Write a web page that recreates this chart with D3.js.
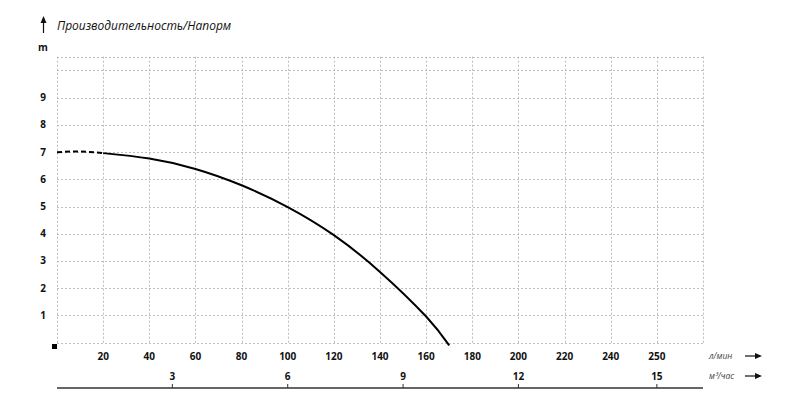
<!DOCTYPE html>
<html>
<head>
<meta charset="utf-8">
<script src="https://cdn.jsdelivr.net/npm/d3@7"></script>
<style>
  body { margin: 0; background: #fff; }
  text { font-family: "Open Sans", sans-serif; fill: #111; }
</style>
</head>
<body>
<svg></svg>
<script>
// dashed start of the curve (l/min, m)
var dashedFlow = [0, 10, 20];
var dashedHead = [6.99, 7.02, 6.96];
// solid part of the curve
var curveFlow = [20, 40, 60, 80, 100, 120, 140, 160, 170];
var curveHead = [6.96, 6.76, 6.38, 5.78, 4.98, 3.95, 2.6, 0.96, -0.1];

var headTicks = [1, 2, 3, 4, 5, 6, 7, 8, 9];
var gridHeads = [0, 1, 2, 3, 4, 5, 6, 7, 8, 9, 10, 10.5];
var flowTicks = [20, 40, 60, 80, 100, 120, 140, 160, 180, 200, 220, 240, 260];
var flowLabels = ['20', '40', '60', '80', '100', '120', '140', '160', '180', '200', '220', '240', '250'];
var cubicTicks = [50, 100, 150, 200, 260];
var cubicLabels = ['3', '6', '9', '12', '15'];

var width = 800;
var height = 411;

var svg = d3.select('svg')
  .attr('width', width)
  .attr('height', height);

var x = d3.scaleLinear().domain([0, 280]).range([57, 703]);
var y = d3.scaleLinear().domain([0, 10.5]).range([342.7, 56.7]);

// grid
var grid = svg.append('g')
  .attr('stroke', '#bdbdbd')
  .attr('stroke-width', 1)
  .attr('stroke-dasharray', '2,2');

grid.selectAll('.hgrid')
  .data(gridHeads)
  .enter()
  .append('line')
  .attr('x1', x(0))
  .attr('x2', x(280))
  .attr('y1', d => Math.round(y(d)) + 0.5)
  .attr('y2', d => Math.round(y(d)) + 0.5);

grid.selectAll('.vgrid')
  .data([0].concat(flowTicks, [280]))
  .enter()
  .append('line')
  .attr('y1', y(10.5))
  .attr('y2', y(0))
  .attr('x1', d => Math.round(x(d)) + 0.5)
  .attr('x2', d => Math.round(x(d)) + 0.5);

// y labels
svg.selectAll('.ylab')
  .data(headTicks)
  .enter()
  .append('text')
  .attr('x', 43)
  .attr('y', d => y(d) + 3.5)
  .attr('text-anchor', 'middle')
  .style('font-size', '10px')
  .style('font-weight', 'bold')
  .text(d => d);

svg.append('text')
  .attr('x', 43)
  .attr('y', 51)
  .attr('text-anchor', 'middle')
  .style('font-size', '10px')
  .style('font-weight', 'bold')
  .text('m');

// up arrow + title
svg.append('line')
  .attr('x1', 43.5).attr('x2', 43.5)
  .attr('y1', 33).attr('y2', 21)
  .attr('stroke', '#111').attr('stroke-width', 1.2);
svg.append('path')
  .attr('d', 'M43.5,16 L40.5,23 L46.5,23 Z')
  .attr('fill', '#111');

svg.append('text')
  .attr('x', 57)
  .attr('y', 30)
  .style('font-size', '12px')
  .style('font-style', 'italic')
  .text('Производительность/Напорм');

// origin square
svg.append('rect')
  .attr('x', 52).attr('y', 344)
  .attr('width', 5).attr('height', 5)
  .attr('fill', '#000');

// flow labels (l/min)
svg.selectAll('.xlab')
  .data(flowTicks)
  .enter()
  .append('text')
  .attr('x', d => x(d))
  .attr('y', 360)
  .attr('text-anchor', 'middle')
  .style('font-size', '10px')
  .style('font-weight', 'bold')
  .text((d, i) => flowLabels[i]);

// m3/h axis
svg.append('line')
  .attr('x1', x(0)).attr('x2', x(280))
  .attr('y1', 388).attr('y2', 388)
  .attr('stroke', '#333').attr('stroke-width', 1.5);

svg.selectAll('.ctick')
  .data(cubicTicks)
  .enter()
  .append('line')
  .attr('x1', d => x(d)).attr('x2', d => x(d))
  .attr('y1', 388).attr('y2', 384)
  .attr('stroke', '#333').attr('stroke-width', 1);

svg.selectAll('.clab')
  .data(cubicTicks)
  .enter()
  .append('text')
  .attr('x', d => x(d))
  .attr('y', 380)
  .attr('text-anchor', 'middle')
  .style('font-size', '10px')
  .style('font-weight', 'bold')
  .text((d, i) => cubicLabels[i]);

// unit labels with arrows
var units = [{label: 'л/мин', y: 356}, {label: 'м³/час', y: 376}];
units.forEach(u => {
  svg.append('text')
    .attr('x', 709)
    .attr('y', u.y + 3)
    .style('font-size', '8.5px')
    .style('font-style', 'italic')
    .style('fill', '#444')
    .text(u.label);
  svg.append('line')
    .attr('x1', 745).attr('x2', 756)
    .attr('y1', u.y).attr('y2', u.y)
    .attr('stroke', '#111').attr('stroke-width', 1.2);
  svg.append('path')
    .attr('d', `M762,${u.y} L755,${u.y - 3} L755,${u.y + 3} Z`)
    .attr('fill', '#111');
});

// curve
var line = d3.line()
  .x(d => x(d[0]))
  .y(d => y(d[1]))
  .curve(d3.curveNatural);

svg.append('path')
  .datum(dashedFlow.map((f, i) => [f, dashedHead[i]]))
  .attr('d', line)
  .attr('fill', 'none')
  .attr('stroke', '#000')
  .attr('stroke-width', 2)
  .attr('stroke-dasharray', '5,3');

svg.append('path')
  .datum(curveFlow.map((f, i) => [f, curveHead[i]]))
  .attr('d', line)
  .attr('fill', 'none')
  .attr('stroke', '#000')
  .attr('stroke-width', 2);
</script>
</body>
</html>
